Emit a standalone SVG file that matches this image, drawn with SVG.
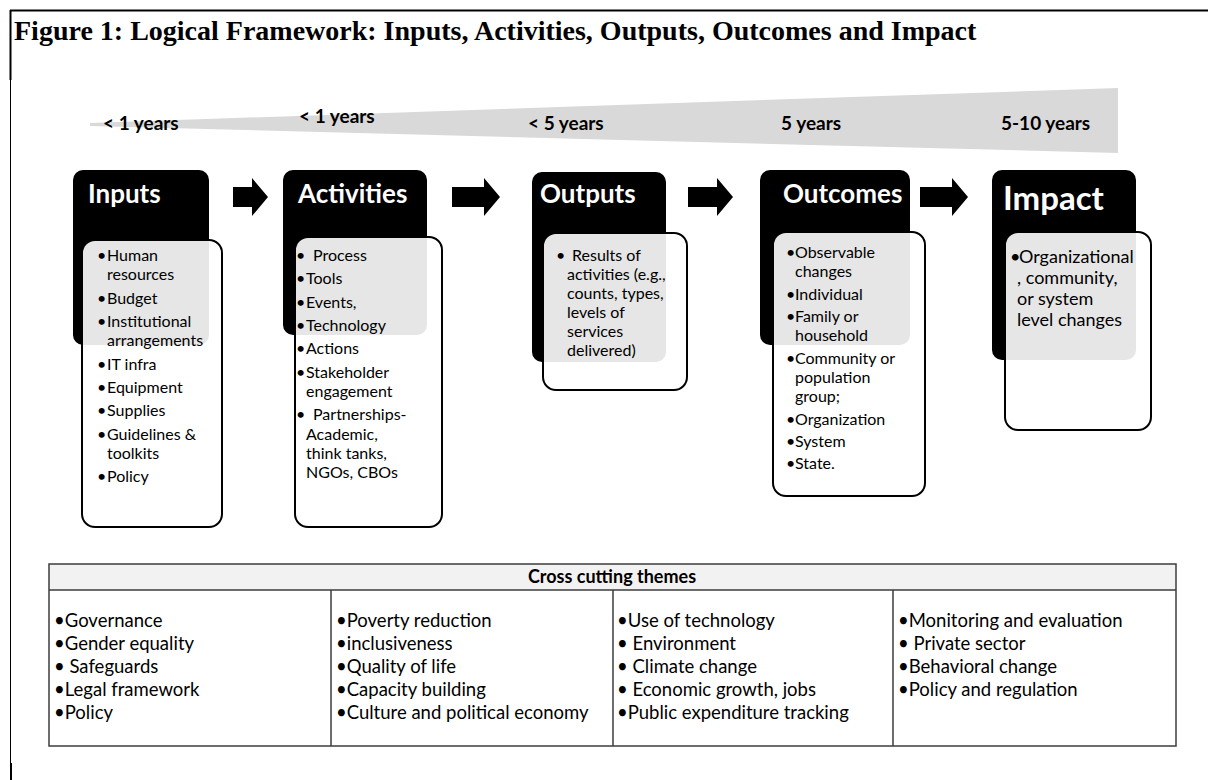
<svg xmlns="http://www.w3.org/2000/svg" width="1208" height="780" viewBox="0 0 1208 780">
  <defs>
    <style>
      .title{font-family:"Liberation Serif","Times New Roman",serif;font-weight:bold;font-size:28px;fill:#000}
      .yr{font-family:Lato,"Liberation Sans",sans-serif;font-weight:bold;font-size:19px;fill:#000}
      .head{fill:#000}
      .cap{font-family:Lato,"Liberation Sans",sans-serif;font-weight:bold;font-size:26px;fill:#fff}
      .cap-lg{font-size:33px}
      .body{fill:#fff;fill-opacity:0.9;stroke:#000;stroke-width:2}
      .t{font-family:Lato,"Liberation Sans",sans-serif;font-size:16px;fill:#000}
      .t-lg{font-size:18px}
      .arrow{fill:#000}
      .grid{fill:none;stroke:#3c3c3c;stroke-width:1.5}
      .th{fill:#f2f2f2}
      .cell{font-family:Lato,"Liberation Sans",sans-serif;font-size:18.5px;fill:#000}
      .cell-h{font-weight:bold;font-size:18px}
    </style>
  </defs>

  <rect width="1208" height="780" fill="#fff"/>

  <!-- page frame -->
  <g id="frame" stroke="#000" fill="none">
    <line x1="10" y1="10.5" x2="1208" y2="10.5" stroke-width="2"/>
    <line x1="10.5" y1="10" x2="10.5" y2="80" stroke-width="2"/>
    <line x1="10.5" y1="80" x2="10.5" y2="780" stroke-width="1"/>
    <line x1="11" y1="763" x2="11" y2="780" stroke-width="2"/>
  </g>

  <text class="title" x="14" y="40">Figure 1: Logical Framework: Inputs, Activities, Outputs, Outcomes and Impact</text>

  <!-- time wedge -->
  <g id="timeline">
    <polygon points="90,123 1118,88 1118,153 90,126" fill="#d9d9d9"/>
    <text class="yr" x="103" y="130">&lt; 1 years</text>
    <text class="yr" x="299" y="123">&lt; 1 years</text>
    <text class="yr" x="528" y="130">&lt; 5 years</text>
    <text class="yr" x="781" y="130">5 years</text>
    <text class="yr" x="1001" y="130">5-10 years</text>
  </g>

  <!-- Inputs -->
  <g id="inputs">
    <rect class="head" x="73" y="170" width="136" height="175" rx="10"/>
    <text class="cap" x="88" y="203">Inputs</text>
    <rect class="body" x="82" y="240" width="140" height="287" rx="13"/>
    <g class="t">
      <text x="97" y="261">•</text><text x="107" y="261">Human</text>
      <text x="107" y="280">resources</text>
      <text x="97" y="304">•</text><text x="107" y="304">Budget</text>
      <text x="97" y="327">•</text><text x="107" y="327">Institutional</text>
      <text x="107" y="346">arrangements</text>
      <text x="97" y="370">•</text><text x="107" y="370">IT infra</text>
      <text x="97" y="393">•</text><text x="107" y="393">Equipment</text>
      <text x="97" y="416">•</text><text x="107" y="416">Supplies</text>
      <text x="97" y="440">•</text><text x="107" y="440">Guidelines &amp;</text>
      <text x="107" y="459">toolkits</text>
      <text x="97" y="482">•</text><text x="107" y="482">Policy</text>
    </g>
  </g>

  <!-- Activities -->
  <g id="activities">
    <rect class="head" x="283" y="170" width="144" height="165" rx="10"/>
    <text class="cap" x="298" y="203">Activities</text>
    <rect class="body" x="295" y="237" width="147" height="290" rx="13"/>
    <g class="t">
      <text x="296" y="261">•</text><text x="313" y="261">Process</text>
      <text x="296" y="284">•</text><text x="306" y="284">Tools</text>
      <text x="296" y="308">•</text><text x="306" y="308">Events,</text>
      <text x="296" y="331">•</text><text x="306" y="331">Technology</text>
      <text x="296" y="354">•</text><text x="306" y="354">Actions</text>
      <text x="296" y="378">•</text><text x="306" y="378">Stakeholder</text>
      <text x="306" y="397">engagement</text>
      <text x="296" y="420">•</text><text x="313" y="420">Partnerships-</text>
      <text x="306" y="440">Academic,</text>
      <text x="306" y="459">think tanks,</text>
      <text x="306" y="478">NGOs, CBOs</text>
    </g>
  </g>

  <!-- Outputs -->
  <g id="outputs">
    <rect class="head" x="532" y="172" width="134" height="190" rx="10"/>
    <text class="cap" x="540" y="203">Outputs</text>
    <rect class="body" x="543" y="233" width="144" height="157" rx="13"/>
    <g class="t">
      <text x="556" y="261">•</text><text x="572" y="261">Results of</text>
      <text x="567" y="280">activities (e.g.,</text>
      <text x="567" y="299">counts, types,</text>
      <text x="567" y="318">levels of</text>
      <text x="567" y="337">services</text>
      <text x="567" y="356">delivered)</text>
    </g>
  </g>

  <!-- Outcomes -->
  <g id="outcomes">
    <rect class="head" x="760" y="170" width="150" height="175" rx="10"/>
    <text class="cap" x="783" y="203">Outcomes</text>
    <rect class="body" x="773" y="232" width="152" height="264" rx="13"/>
    <g class="t">
      <text x="786" y="258">•</text><text x="795" y="258">Observable</text>
      <text x="795" y="277">changes</text>
      <text x="786" y="300">•</text><text x="795" y="300">Individual</text>
      <text x="786" y="322">•</text><text x="795" y="322">Family or</text>
      <text x="795" y="341">household</text>
      <text x="786" y="364">•</text><text x="795" y="364">Community or</text>
      <text x="795" y="383">population</text>
      <text x="795" y="402">group;</text>
      <text x="786" y="425">•</text><text x="795" y="425">Organization</text>
      <text x="786" y="447">•</text><text x="795" y="447">System</text>
      <text x="786" y="469">•</text><text x="795" y="469">State.</text>
    </g>
  </g>

  <!-- Impact -->
  <g id="impact">
    <rect class="head" x="992" y="170" width="144" height="190" rx="10"/>
    <text class="cap cap-lg" x="1003" y="210">Impact</text>
    <rect class="body" x="1005" y="232" width="146" height="198" rx="13"/>
    <g class="t t-lg">
      <text x="1010" y="263">•</text><text x="1019" y="263">Organizational</text>
      <text x="1017" y="284">, community,</text>
      <text x="1017" y="305">or system</text>
      <text x="1017" y="326">level changes</text>
    </g>
  </g>

  <!-- flow arrows -->
  <g id="connectors" class="arrow">
    <polygon points="233,187 252,187 252,178 268,197 252,216 252,207 233,207"/>
    <polygon points="452,187 484,187 484,178 500,197 484,216 484,207 452,207"/>
    <polygon points="688,187 717,187 717,178 733,197 717,216 717,207 688,207"/>
    <polygon points="920,187 952,187 952,178 968,197 952,216 952,207 920,207"/>
  </g>

  <!-- cross cutting themes table -->
  <g id="themes">
    <rect class="th" x="49" y="564" width="1127" height="26"/>
    <g class="grid">
      <rect x="49" y="564" width="1127" height="182"/>
      <line x1="49" y1="590" x2="1176" y2="590"/>
      <line x1="331" y1="590" x2="331" y2="746"/>
      <line x1="613" y1="590" x2="613" y2="746"/>
      <line x1="893" y1="590" x2="893" y2="746"/>
    </g>
    <text class="cell cell-h" x="612" y="583" text-anchor="middle">Cross cutting themes</text>
    <g class="cell">
      <text x="54" y="627">•Governance</text>
      <text x="54" y="650">•Gender equality</text>
      <text x="54" y="673">• Safeguards</text>
      <text x="54" y="696">•Legal framework</text>
      <text x="54" y="719">•Policy</text>

      <text x="336" y="627">•Poverty reduction</text>
      <text x="336" y="650">•inclusiveness</text>
      <text x="336" y="673">•Quality of life</text>
      <text x="336" y="696">•Capacity building</text>
      <text x="336" y="719">•Culture and political economy</text>

      <text x="617" y="627">•Use of technology</text>
      <text x="617" y="650">• Environment</text>
      <text x="617" y="673">• Climate change</text>
      <text x="617" y="696">• Economic growth, jobs</text>
      <text x="617" y="719">•Public expenditure tracking</text>

      <text x="898" y="627">•Monitoring and evaluation</text>
      <text x="898" y="650">• Private sector</text>
      <text x="898" y="673">•Behavioral change</text>
      <text x="898" y="696">•Policy and regulation</text>
    </g>
  </g>
</svg>
